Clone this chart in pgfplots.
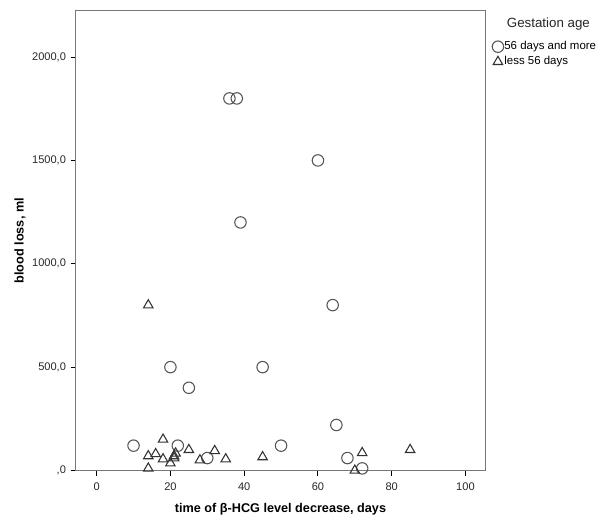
\documentclass[border=0pt]{standalone}
\usepackage{fontspec}
\setmainfont{Liberation Sans}
\usepackage{pgfplots}
\pgfplotsset{compat=1.18}
\definecolor{cCirc}{HTML}{555555}
\definecolor{cTri}{HTML}{333333}
\definecolor{cFrame}{HTML}{777777}

\begin{document}
\begin{tikzpicture}
  \begin{axis}[
      scale only axis, width=306.75pt, height=344.6pt,
      xmin=-5.6, xmax=105.3, ymin=0, ymax=2223,
      xtick={0,20,40,60,80,100},
      xticklabels={0,20,40,60,80,100},
      ytick={0,500,1000,1500,2000},
      yticklabels={{,0},{500,0},{1000,0},{1500,0},{2000,0}},
      tick align=outside, major tick length=4pt,
      xtick pos=bottom, ytick pos=left,
      tick style={black, line width=0.75pt},
      ticklabel style={font=\fontsize{8.3}{10}\selectfont, text=black!85},
      xticklabel style={yshift=-2pt},
      axis line style={cFrame, line width=0.75pt},
      clip mode=individual,
      xlabel={\textbf{time of β-HCG level decrease, days}},
      ylabel={\textbf{blood loss, ml}},
      label style={font=\fontsize{9.5}{11}\selectfont},
      xlabel style={at={(axis description cs:0.5,-0.085)}, anchor=center},
      ylabel style={at={(axis description cs:-0.137,0.5)}, anchor=center, rotate=0},
      legend style={at={(axis description cs:1.017,0.906)}, anchor=west,
                    draw=none, fill=none, inner sep=0pt, row sep=2.75pt,
                    font=\fontsize{8.6}{9}\selectfont,
                    nodes={inner sep=0.5pt, text height=6pt, text depth=1.5pt}},
      legend cell align=left,
      legend image code/.code={\draw[#1] plot coordinates {(4.4pt,0pt)};},
    ]
    % 56 days and more
    \addplot[only marks, mark=o, mark size=4.3pt, draw=cCirc, line width=0.8pt]
      coordinates {
        (10,120) (20,500) (22,120) (25,400) (30,60)
        (36,1800) (38,1800) (39,1200) (45,500) (50,120)
        (60,1500) (64,800) (65,220) (68,60) (72,10)
      };
    \addlegendentry{56 days and more}
    % less 56 days
    \addplot[only marks, mark=triangle, mark size=4.1pt, draw=cTri, line width=0.8pt]
      coordinates {
        (14,800) (14,70) (14,10) (16,80) (18,150) (18,55)
        (20,35) (21,60) (21,70) (21.4,83) (25,100) (28,50)
        (32,95) (35,55) (45,65) (70,0) (72,85) (85,100)
      };
    \addlegendentry{less 56 days}

    \node[font=\fontsize{10}{11}\selectfont, text=black!85, anchor=center]
      at (axis description cs:1.155,0.972) {Gestation age};
    \coordinate (ll) at (axis description cs:0,0);
    \coordinate (ur) at (axis description cs:1,1);
  \end{axis}
  \path[use as bounding box] ([xshift=-57pt,yshift=-35.6pt]ll) rectangle ([xshift=87pt,yshift=8.25pt]ur);
\end{tikzpicture}
\end{document}
